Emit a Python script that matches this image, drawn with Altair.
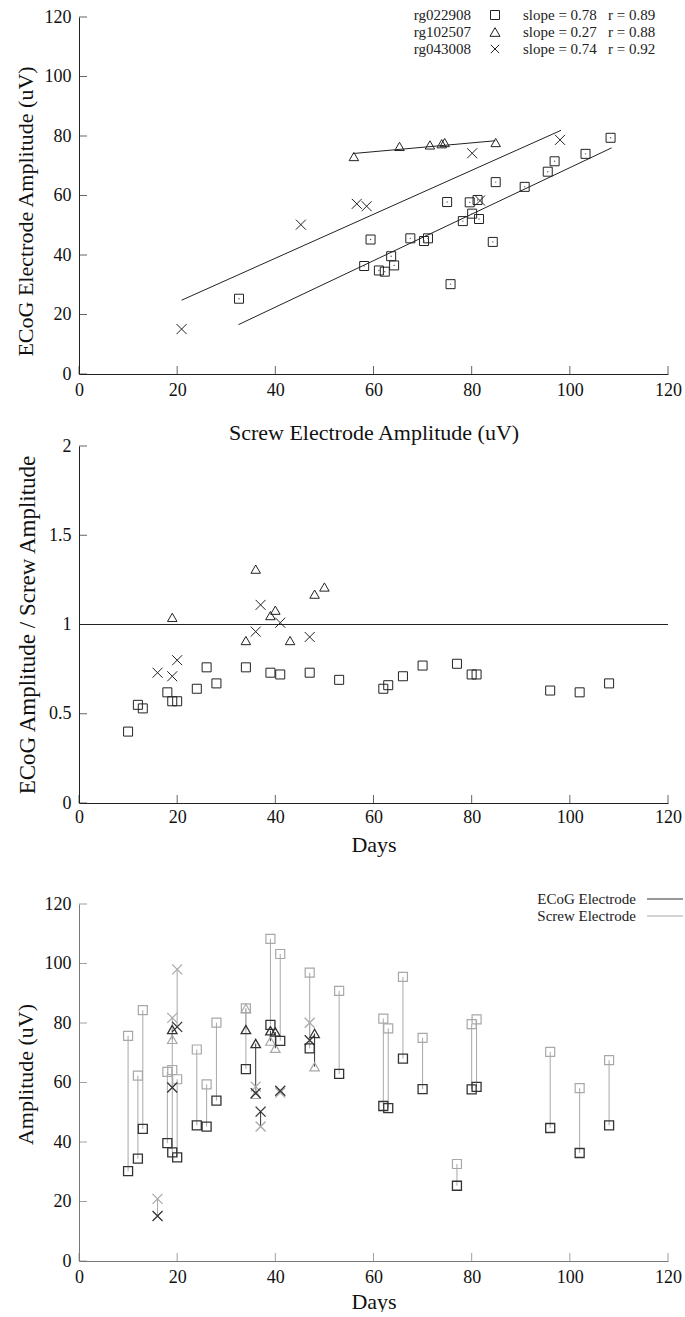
import altair as alt
import pandas as pd

FONT = "Liberation Serif"
W, H = 589, 357
INK = "#222222"
DARK = "#333333"
LIGHT = "#a8a8a8"

animals = ["rg022908", "rg102507", "rg043008"]
shape_range = ["square", "triangle-up", "M-1,-1L1,1M-1,1L1,-1"]
shape_sizes = [81, 100, 70]

# --- amplitudes per day (ECoG electrode vs screw electrode) ---
sq_days = [10, 12, 13, 18, 19, 20, 24, 26, 28, 34, 39, 41, 47, 53, 62, 63, 66, 70, 77, 80, 81, 96, 102, 108]
sq_ecog = [30.2, 34.4, 44.4, 39.6, 36.5, 34.8, 45.6, 45.2, 53.9, 64.5, 79.4, 74.0, 71.5, 62.9, 52.1, 51.4,
           68.0, 57.8, 25.3, 57.7, 58.5, 44.7, 36.3, 45.6]
sq_screw = [75.7, 62.3, 84.3, 63.6, 64.2, 61.1, 71.1, 59.4, 80.1, 84.9, 108.3, 103.2, 96.9, 90.8, 81.5, 78.2,
            95.5, 75.0, 32.6, 79.6, 81.2, 70.3, 58.1, 67.5]

tri_days = [19, 34, 36, 39, 40, 48]
tri_ecog = [77.8, 77.8, 73.1, 77.4, 77.0, 76.5]
tri_screw = [74.5, 84.9, 56.0, 73.9, 71.5, 65.3]

x_days = [16, 19, 20, 36, 37, 41, 47]
x_ecog = [15.1, 58.3, 78.7, 56.4, 50.2, 57.2, 74.2]
x_screw = [20.9, 81.7, 98.0, 58.6, 45.2, 56.6, 80.1]

# --- ratio panel (ECoG / screw) ---
r_sq_days = [10, 12, 13, 18, 19, 20, 24, 26, 28, 34, 39, 41, 47, 53, 62, 63, 66, 70, 77, 80, 81, 96, 102, 108]
r_sq = [0.40, 0.55, 0.53, 0.62, 0.57, 0.57, 0.64, 0.76, 0.67, 0.76, 0.73, 0.72, 0.73, 0.69, 0.64, 0.66,
        0.71, 0.77, 0.78, 0.72, 0.72, 0.63, 0.62, 0.67]
r_tri_days = [19, 34, 36, 39, 40, 43, 48, 50]
r_tri = [1.04, 0.91, 1.31, 1.05, 1.08, 0.91, 1.17, 1.21]
r_x_days = [16, 19, 20, 36, 37, 41, 47]
r_x = [0.73, 0.71, 0.80, 0.96, 1.11, 1.01, 0.93]

# --- regression lines ---
fit_animal = ["rg022908", "rg022908", "rg102507", "rg102507", "rg043008", "rg043008"]
fit_screw = [32.5, 108.5, 55.8, 84.8, 20.9, 98.2]
fit_ecog = [16.6, 76.0, 74.1, 78.4, 24.8, 81.9]

leg_slope = ["slope = 0.78", "slope = 0.27", "slope = 0.74"]
leg_r = ["r = 0.89", "r = 0.88", "r = 0.92"]
elec_names = ["ECoG Electrode", "Screw Electrode"]

amp_ticks = [0, 20, 40, 60, 80, 100, 120]
ratio_ticks = [0, 0.5, 1, 1.5, 2]

rows = []
for name, dd, ee, ss in [(animals[0], sq_days, sq_ecog, sq_screw),
                         (animals[1], tri_days, tri_ecog, tri_screw),
                         (animals[2], x_days, x_ecog, x_screw)]:
    for d, e, s in zip(dd, ee, ss):
        rows.append({"animal": name, "day": d, "ecog": e, "screw": s})
amp = pd.DataFrame(rows)

rrows = []
for name, dd, vv in [(animals[0], r_sq_days, r_sq), (animals[1], r_tri_days, r_tri), (animals[2], r_x_days, r_x)]:
    for d, v in zip(dd, vv):
        rrows.append({"animal": name, "day": d, "ratio": v})
ratio = pd.DataFrame(rrows)

fits = pd.DataFrame({"animal": fit_animal, "screw": fit_screw, "ecog": fit_ecog})
one = pd.DataFrame({"k": [0]})

shape_scale = alt.Scale(domain=animals, range=shape_range)
size_scale = alt.Scale(domain=animals, range=shape_sizes)


def ax(title, values, dom, title_pad, fmt=None, lab_pad=4, tsize=22, title_y=None):
    kw = dict(title=title, values=values, domainColor=dom, domainWidth=1, ticks=False, grid=False,
              labelFont=FONT, labelFontSize=18, labelColor="#111", labelFlush=False, labelOverlap=False,
              titleFont=FONT, titleFontSize=tsize, titleFontWeight="normal", titleColor="#111",
              titlePadding=title_pad, labelPadding=lab_pad)
    if fmt:
        kw["format"] = fmt
    if title_y is not None:
        kw["titleY"] = title_y
    return alt.Axis(**kw)


def tick_layers(xfield_title, xaxis, xscale, yaxis, yscale, xvals, yvals, color, yfield_title):
    xt = alt.Chart(pd.DataFrame({"v": xvals})).mark_tick(
        orient="vertical", size=8, thickness=1, color=color).encode(
        x=alt.X("v:Q", scale=xscale, axis=xaxis, title=xfield_title), y=alt.value(H - 4))
    yt = alt.Chart(pd.DataFrame({"w": yvals})).mark_tick(
        orient="horizontal", size=8, thickness=1, color=color).encode(
        y=alt.Y("w:Q", scale=yscale, axis=yaxis, title=yfield_title), x=alt.value(4))
    return [xt, yt]


# ---------------- panel 1 ----------------
x1_scale = alt.Scale(domain=[0, 120], nice=False)
y1_scale = alt.Scale(domain=[0, 120], nice=False)
x1_title = "Screw Electrode Amplitude (uV)"
y1_title = "ECoG Electrode Amplitude (uV)"
x1_axis = ax(x1_title, amp_ticks, INK, 23, lab_pad=7)
y1_axis = ax(y1_title, amp_ticks, INK, 7, lab_pad=8, title_y=194)

p1_lines = alt.Chart(fits).mark_line(color=INK, strokeWidth=1).encode(
    x=alt.X("screw:Q", scale=x1_scale, axis=x1_axis, title=x1_title),
    y=alt.Y("ecog:Q", scale=y1_scale, axis=y1_axis, title=y1_title),
    detail="animal:N")
p1_pts = alt.Chart(amp).mark_point(filled=False, color=INK, strokeWidth=1, opacity=1).encode(
    x=alt.X("screw:Q", scale=x1_scale, axis=x1_axis, title=x1_title),
    y=alt.Y("ecog:Q", scale=y1_scale, axis=y1_axis, title=y1_title),
    shape=alt.Shape("animal:N", scale=shape_scale, legend=None),
    size=alt.Size("animal:N", scale=size_scale, legend=None))
p1_dots = alt.Chart(amp).transform_filter(alt.datum.animal == animals[0]).mark_circle(
    size=2, color="#555", opacity=1).encode(
    x=alt.X("screw:Q", scale=x1_scale, axis=x1_axis, title=x1_title),
    y=alt.Y("ecog:Q", scale=y1_scale, axis=y1_axis, title=y1_title))

p1_layers = [p1_lines, p1_pts, p1_dots]
for i in range(3):
    yy = -2 + 17 * i
    p1_layers.append(alt.Chart(one).mark_text(font=FONT, fontSize=15, color=INK, align="right",
                                              baseline="middle").encode(
        x=alt.value(392), y=alt.value(yy), text=alt.value(animals[i])))
    p1_layers.append(alt.Chart(one).mark_point(filled=False, color=INK, strokeWidth=1, opacity=1,
                                               shape=shape_range[i], size=shape_sizes[i]).encode(
        x=alt.value(416), y=alt.value(yy)))
    p1_layers.append(alt.Chart(one).mark_text(font=FONT, fontSize=15, color=INK, align="left",
                                              baseline="middle").encode(
        x=alt.value(444), y=alt.value(yy), text=alt.value(leg_slope[i])))
    p1_layers.append(alt.Chart(one).mark_text(font=FONT, fontSize=15, color=INK, align="left",
                                              baseline="middle").encode(
        x=alt.value(529), y=alt.value(yy), text=alt.value(leg_r[i])))
p1_layers += tick_layers(x1_title, x1_axis, x1_scale, y1_axis, y1_scale, amp_ticks, amp_ticks, INK, y1_title)
panel1 = alt.layer(*p1_layers).properties(width=W, height=H)

# ---------------- panel 2 ----------------
x2_scale = alt.Scale(domain=[0, 120], nice=False)
y2_scale = alt.Scale(domain=[0, 2], nice=False)
x2_title = "Days"
y2_title = "ECoG Amplitude / Screw Amplitude"
x2_axis = ax(x2_title, amp_ticks, INK, 8, lab_pad=5)
y2_axis = ax(y2_title, ratio_ticks, INK, 9, fmt="~g", tsize=23, lab_pad=8)

p2_rule = alt.Chart(pd.DataFrame({"ratio": [1]})).mark_rule(color=INK, strokeWidth=1).encode(
    y=alt.Y("ratio:Q", scale=y2_scale, axis=y2_axis, title=y2_title), x=alt.value(0), x2=alt.value(W))
p2_pts = alt.Chart(ratio).mark_point(filled=False, color=INK, strokeWidth=1, opacity=1).encode(
    x=alt.X("day:Q", scale=x2_scale, axis=x2_axis, title=x2_title),
    y=alt.Y("ratio:Q", scale=y2_scale, axis=y2_axis, title=y2_title),
    shape=alt.Shape("animal:N", scale=shape_scale, legend=None),
    size=alt.Size("animal:N", scale=size_scale, legend=None))
p2_layers = [p2_rule, p2_pts] + tick_layers(x2_title, x2_axis, x2_scale, y2_axis, y2_scale,
                                            amp_ticks, ratio_ticks, INK, y2_title)
panel2 = alt.layer(*p2_layers).properties(width=W, height=H)

# ---------------- panel 3 ----------------
AX3 = "#777777"
x3_scale = alt.Scale(domain=[0, 120], nice=False)
y3_scale = alt.Scale(domain=[0, 120], nice=False)
x3_title = "Days"
y3_title = "Amplitude (uV)"
x3_axis = ax(x3_title, amp_ticks, AX3, 5, lab_pad=7)
y3_axis = ax(y3_title, amp_ticks, AX3, 7, lab_pad=8, title_y=170)

p3_rules = alt.Chart(amp).mark_rule(strokeWidth=1).encode(
    x=alt.X("day:Q", scale=x3_scale, axis=x3_axis, title=x3_title),
    y=alt.Y("ecog:Q", scale=y3_scale, axis=y3_axis, title=y3_title),
    y2="screw:Q",
    color=alt.condition("datum.ecog > datum.screw", alt.value(DARK), alt.value(LIGHT)))
p3_screw = alt.Chart(amp).mark_point(filled=False, color=LIGHT, strokeWidth=1.2, opacity=1).encode(
    x=alt.X("day:Q", scale=x3_scale, axis=x3_axis, title=x3_title),
    y=alt.Y("screw:Q", scale=y3_scale, axis=y3_axis, title=y3_title),
    shape=alt.Shape("animal:N", scale=shape_scale, legend=None),
    size=alt.Size("animal:N", scale=size_scale, legend=None))
p3_ecog = alt.Chart(amp).mark_point(filled=False, color=DARK, strokeWidth=1.3, opacity=1).encode(
    x=alt.X("day:Q", scale=x3_scale, axis=x3_axis, title=x3_title),
    y=alt.Y("ecog:Q", scale=y3_scale, axis=y3_axis, title=y3_title),
    shape=alt.Shape("animal:N", scale=shape_scale, legend=None),
    size=alt.Size("animal:N", scale=size_scale, legend=None))

p3_layers = [p3_rules, p3_screw, p3_ecog]
leg_cols = [DARK, LIGHT]
for i in range(2):
    yy = -5 + 17 * i
    p3_layers.append(alt.Chart(one).mark_text(font=FONT, fontSize=15, color=INK, align="right",
                                              baseline="middle").encode(
        x=alt.value(557), y=alt.value(yy), text=alt.value(elec_names[i])))
    p3_layers.append(alt.Chart(one).mark_rule(color=leg_cols[i], strokeWidth=1).encode(
        x=alt.value(568), x2=alt.value(604), y=alt.value(yy)))
# invisible spacer that sets the gap above this panel
p3_layers.append(alt.Chart(one).mark_text(font=FONT, fontSize=10, opacity=0).encode(
    x=alt.value(0), y=alt.value(-50), text=alt.value(".")))
p3_layers += tick_layers(x3_title, x3_axis, x3_scale, y3_axis, y3_scale, amp_ticks, amp_ticks, AX3, y3_title)
panel3 = alt.layer(*p3_layers).properties(width=W, height=H)

chart = alt.vconcat(panel1, panel2, panel3, spacing=-6).configure_view(stroke=None).configure_axis(
    labelFont=FONT, titleFont=FONT).properties(
    padding={"left": 14, "top": 8, "right": 0, "bottom": 0}, background="white")

chart.save("out.html", embed_options={"renderer": "svg", "actions": False})
